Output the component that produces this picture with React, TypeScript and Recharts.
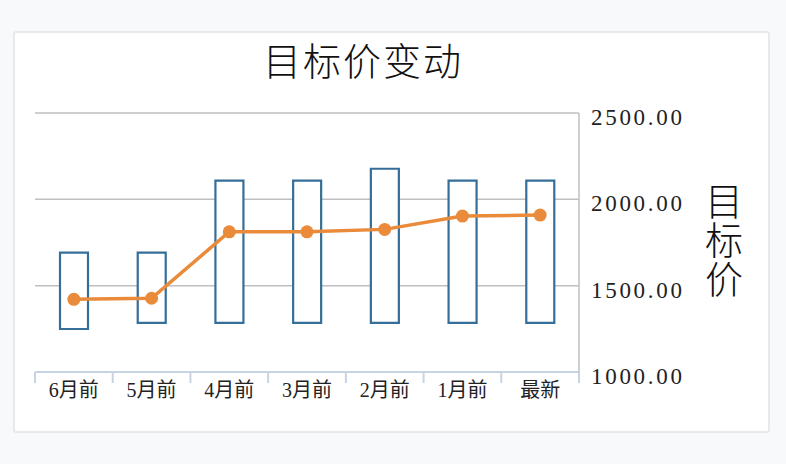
import { ComposedChart, Bar, Line, XAxis, YAxis, CartesianGrid } from "recharts"

const categories = ["6月前", "5月前", "4月前", "3月前", "2月前", "1月前", "最新"]
const lowPrice = [1249, 1284, 1284, 1284, 1284, 1284, 1284]
const highPrice = [1691, 1691, 2108, 2108, 2177, 2108, 2108]
const avgPrice = [1421, 1427, 1812, 1812, 1826, 1903, 1909]
const yTicks = [1000, 1500, 2000, 2500]

const data = categories.map((name, i) => ({
  name,
  range: [lowPrice[i], highPrice[i]],
  avg: avgPrice[i],
}))

const FONT = "'Liberation Serif', 'Noto Sans CJK SC', serif"
const PLOT_LEFT = 35
const PLOT_RIGHT = 579
const BAND = (PLOT_RIGHT - PLOT_LEFT) / categories.length

const XTick = ({ x, y, payload, index }: any) => (
  <g>
    <line x1={x - BAND / 2} x2={x - BAND / 2} y1={y} y2={y + 11} stroke="#c6d4e4" strokeWidth={2} />
    {index === categories.length - 1 && (
      <line x1={x + BAND / 2} x2={x + BAND / 2} y1={y} y2={y + 11} stroke="#c6d4e4" strokeWidth={2} />
    )}
    <text x={x} y={y + 25} textAnchor="middle" fill="#222" fontSize={20} fontFamily={FONT}>
      {payload.value}
    </text>
  </g>
)

const YTick = ({ x, y, payload }: any) => (
  <text x={x} y={y + 12} textAnchor="start" fill="#222" fontSize={23} letterSpacing={2.7} fontFamily={FONT}>
    {Number(payload.value).toFixed(2)}
  </text>
)

export default function App() {
  return (
    <div style={{ position: "absolute", left: 0, top: 0, width: 786, height: 464, background: "#f8f9fa" }}>
      <div
        style={{
          position: "absolute",
          left: 13,
          top: 31,
          width: 753,
          height: 398,
          background: "#fff",
          border: "2px solid #e8e9ea",
          borderRadius: 3,
        }}
      />
      <div
        style={{
          position: "absolute",
          left: 2,
          top: 42,
          width: 722,
          textAlign: "center",
          fontSize: 38,
          lineHeight: "40px",
          letterSpacing: 2,
          fontWeight: 300,
          fontFamily: FONT,
          color: "#111",
        }}
      >
        目标价变动
      </div>
      <div
        style={{
          position: "absolute",
          left: 704,
          top: 183,
          width: 40,
          fontSize: 38,
          lineHeight: "39px",
          fontWeight: 300,
          fontFamily: FONT,
          color: "#111",
          textAlign: "center",
        }}
      >
        <div>目</div>
        <div>标</div>
        <div>价</div>
      </div>
      <div style={{ position: "absolute", left: 0, top: 0 }}>
        <ComposedChart
          width={786}
          height={464}
          data={data}
          margin={{ top: 113, left: PLOT_LEFT, right: 67, bottom: 62 }}
        >
          <CartesianGrid vertical={false} stroke="#bfbfbf" strokeWidth={1.5} yAxisId="right" />
          <XAxis
            dataKey="name"
            height={30}
            axisLine={{ stroke: "#c6d4e4", strokeWidth: 2 }}
            tickLine={false}
            tickSize={0}
            tickMargin={0}
            tick={<XTick />}
            interval={0}
          />
          <YAxis yAxisId="left" orientation="left" width={0} domain={[1000, 2500]} ticks={yTicks} tick={false} tickLine={false} axisLine={{ stroke: "#bfbfbf", strokeWidth: 1.5 }} />
          <YAxis
            yAxisId="right"
            orientation="right"
            width={140}
            domain={[1000, 2500]}
            ticks={yTicks}
            tickLine={false}
            tickSize={0}
            tickMargin={12}
            axisLine={{ stroke: "#bfbfbf", strokeWidth: 1.5 }}
            tick={<YTick />}
            interval={0}
          />
          <Bar
            yAxisId="right"
            dataKey="range"
            barSize={28}
            fill="#ffffff"
            stroke="#356e98"
            strokeWidth={2.2}
            isAnimationActive={false}
          />
          <Line
            yAxisId="right"
            dataKey="avg"
            stroke="#e98b3a"
            strokeWidth={3.5}
            dot={{ r: 6.5, fill: "#e98b3a", stroke: "#e98b3a", strokeWidth: 0 }}
            activeDot={false}
            isAnimationActive={false}
          />
        </ComposedChart>
      </div>
    </div>
  )
}
